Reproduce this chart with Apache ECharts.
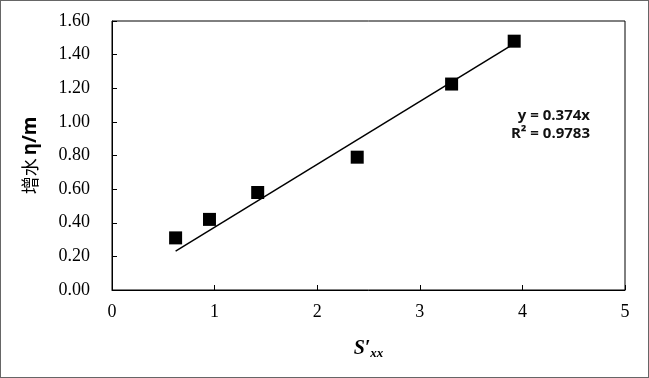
<!DOCTYPE html>
<html>
<head>
<meta charset="utf-8">
<script src="https://cdn.jsdelivr.net/npm/echarts@6/dist/echarts.min.js"></script>
<style>
html,body{margin:0;padding:0;background:#fff;}
#c{width:649px;height:378px;box-sizing:border-box;border:1px solid #666;}
</style>
</head>
<body>
<div id="c"></div>
<script>
const sxx = [0.62, 0.95, 1.42, 2.39, 3.31, 3.92];
const eta = [0.31, 0.42, 0.58, 0.79, 1.225, 1.48];
const slope = 0.374;
const r2 = '0.9783';
const yTicks = [0, 0.2, 0.4, 0.6, 0.8, 1.0, 1.2, 1.4, 1.6];

const pts = sxx.map((x, i) => [x, eta[i]]);
const xMin = Math.min(...sxx), xMax = Math.max(...sxx);
const fit = [[xMin, slope * xMin], [xMax, slope * xMax]];

const chart = echarts.init(document.getElementById('c'));
const serif = 'Liberation Serif';
chart.setOption({
  animation: false,
  grid: {left: 111, right: 23, top: 20, bottom: 87, show: true, borderColor: '#000', borderWidth: 1},
  xAxis: {
    type: 'value', min: 0, max: 5, interval: 1,
    axisLine: {lineStyle: {color: '#000', width: 1}},
    axisTick: {inside: true, length: 5, lineStyle: {color: '#000'}},
    splitLine: {show: false},
    axisLabel: {color: '#000', fontFamily: serif, fontSize: 18, margin: 13},
    name: '{s|S′}{sub|xx}',
    nameLocation: 'middle', nameGap: 47,
    nameTextStyle: {
      rich: {
        s: {fontFamily: serif, fontStyle: 'italic', fontWeight: 'bold', fontSize: 20, color: '#000'},
        sub: {fontFamily: serif, fontStyle: 'italic', fontWeight: 'bold', fontSize: 13, color: '#000', padding: [10, 0, 0, 0]}
      }
    }
  },
  yAxis: {
    type: 'value', min: 0, max: 1.6, interval: 0.2,
    axisLine: {show: true, lineStyle: {color: '#000', width: 1}},
    axisTick: {show: true, inside: true, length: 5, lineStyle: {color: '#000'}},
    splitLine: {show: false},
    axisLabel: {color: '#000', fontFamily: serif, fontSize: 18, margin: 22,
      formatter: v => v.toFixed(2)},
    name: '{c|增水}{l|η/m}',
    nameLocation: 'middle', nameGap: 72,
    nameTextStyle: {
      rich: {
        c: {fontFamily: 'Noto Sans CJK SC', fontSize: 18, fontWeight: 'normal', color: '#000'},
        l: {fontFamily: 'Noto Sans', fontSize: 19, fontWeight: 'bold', color: '#000', padding: [0, 0, 0, 3]}
      }
    }
  },
  series: [
    {
      type: 'line', data: fit, symbol: 'none',
      lineStyle: {color: '#000', width: 1.5}, silent: true, z: 2
    },
    {
      type: 'scatter', data: pts, symbol: 'rect', symbolSize: 13,
      itemStyle: {color: '#000', opacity: 1}, z: 3
    }
  ],
  graphic: [
    {type: 'text', right: 58, top: 107, style: {text: 'y = ' + slope + 'x', font: 'bold 15px "Open Sans", sans-serif', fill: '#111', textAlign: 'right'}},
    {type: 'text', right: 58, top: 125, style: {text: 'R² = ' + r2, font: 'bold 15px "Open Sans", sans-serif', fill: '#111', textAlign: 'right'}}
  ]
});
</script>
</body>
</html>
